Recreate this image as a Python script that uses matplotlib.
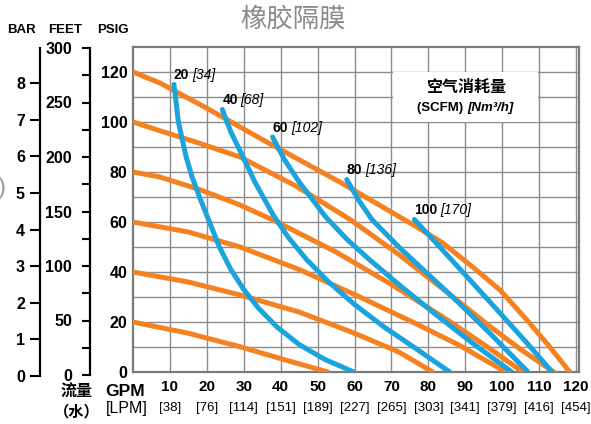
import numpy as np
import matplotlib.pyplot as plt
from matplotlib.patches import Rectangle

# osi i oznake
gpm_ticks = [10, 20, 30, 40, 50, 60, 70, 80, 90, 100, 110, 120]
lpm_labels = ['[38]', '[76]', '[114]', '[151]', '[189]', '[227]',
              '[265]', '[303]', '[341]', '[379]', '[416]', '[454]']
psig_ticks = [0, 20, 40, 60, 80, 100, 120]
bar_ticks = [0, 1, 2, 3, 4, 5, 6, 7, 8]
feet_ticks = [0, 50, 100, 150, 200, 250, 300]

# krivulje tlaka zraka (psig) - narancaste
psi120_x = [0, 7.3, 20, 35, 56, 76.9, 83.9, 92, 99.4, 106.7, 112.9, 118.3]
psi120_y = [120, 115.6, 105.5, 93, 76, 58, 51.6, 42, 32.8, 20.8, 10, 0]
psi100_x = [0, 7.3, 18, 29, 44, 58.8, 72, 85, 96, 105, 114]
psi100_y = [100, 96.5, 91.5, 86, 74.5, 61, 47, 32, 19, 9, 0]
psi80_x = [0, 7.3, 18, 29, 37.9, 55, 70, 85, 96, 105.6]
psi80_y = [80, 78, 73, 66.8, 60.8, 48, 35, 21, 10, 0]
psi60_x = [0, 15, 29, 45, 60, 75, 88, 101]
psi60_y = [60, 56, 50, 41, 31, 20.5, 11, 0]
psi40_x = [0, 15, 29, 45, 60, 72, 81.2]
psi40_y = [40, 36, 30.8, 24, 15.5, 8, 0]
psi20_x = [0, 15, 29, 42, 52.8]
psi20_y = [20, 15.5, 10.1, 4.5, 0]

# krivulje potrosnje zraka (SCFM) - plave
scfm20_x = [11.1, 12.3, 14.4, 16, 18, 20.7, 23.4, 26.5, 30, 34, 39, 45, 52, 59.8]
scfm20_y = [115, 100, 86, 78, 70, 60, 50, 41, 33, 25.5, 18, 11, 5, 0]
scfm40_x = [24.2, 26.5, 29, 33, 37.9, 42, 47, 53, 60, 68, 76, 85.8]
scfm40_y = [105, 96, 88.5, 76, 63, 54, 45, 36, 27, 18, 10, 0]
scfm60_x = [37.8, 41, 45, 52.2, 58, 64, 72, 82, 92, 102.6]
scfm60_y = [94, 85, 76, 62, 53, 45, 35, 23, 11.5, 0]
scfm80_x = [57.9, 61, 64.7, 72, 80, 88, 97, 107]
scfm80_y = [77, 69, 61, 50, 39, 28, 15, 0]
scfm100_x = [76.2, 83.1, 92, 99.4, 106.7, 113.5]
scfm100_y = [61, 50, 35.6, 23.6, 11.6, 0]

scfm_labels = ['20', '40', '60', '80', '100']
nm3_labels = ['[34]', '[68]', '[102]', '[136]', '[170]']

NARROW = ['Liberation Sans', 'DejaVu Sans']
CJK = ['Noto Sans CJK SC', 'DejaVu Sans']
ORANGE = '#F58220'
BLUE = '#1BA3DD'
GRID = '#8c8c8c'

W, H = 591, 424
fig = plt.figure(figsize=(W / 100, H / 100), dpi=100)

# glavni graf
ax = fig.add_axes([133 / W, 52 / H, 446 / W, 325 / H])
ax.set_xlim(0, 120.8)
ax.set_ylim(0, 130)
for s in ax.spines.values():
    s.set_color('#7a7a7a')
    s.set_linewidth(1.6)

# mreza
for gx in range(10, 130, 10):
    ax.axvline(gx, color=GRID, lw=1.0, zorder=1)
for gy in range(10, 130, 10):
    ax.axhline(gy, color=GRID, lw=1.0, zorder=1)

# bijeli okvir za legendu
ax.add_patch(Rectangle((70.35, 100), 39.3, 20, fc='white', ec='none', zorder=2))

orange = [(psi120_x, psi120_y), (psi100_x, psi100_y), (psi80_x, psi80_y),
          (psi60_x, psi60_y), (psi40_x, psi40_y), (psi20_x, psi20_y)]
for xs, ys in orange:
    ax.plot(xs, ys, color=ORANGE, lw=3.6, solid_capstyle='round',
            solid_joinstyle='round', zorder=3)

blue = [(scfm20_x, scfm20_y), (scfm40_x, scfm40_y), (scfm60_x, scfm60_y),
        (scfm80_x, scfm80_y), (scfm100_x, scfm100_y)]
for (xs, ys), lab, lab2 in zip(blue, scfm_labels, nm3_labels):
    ax.plot(xs, ys, color=BLUE, lw=3.6, solid_capstyle='round',
            solid_joinstyle='round', zorder=4)
    t = ax.annotate(lab, xy=(xs[0], ys[0]), xytext=(0, 6.5), textcoords='offset points',
                    ha='left', va='center', fontsize=10, fontweight='bold', family=NARROW)
    ax.annotate(lab2, xy=(1, 0.5), xycoords=t, xytext=(2, 0), textcoords='offset points',
                ha='left', va='center', fontsize=10, style='italic', family=NARROW)

# tekst legende
ax.text(90.2, 114, '空气消耗量', ha='center', va='center', fontsize=11.5,
        fontweight='bold', family=CJK, zorder=5)
t1 = ax.text(90.5, 105.6, '(SCFM) ', ha='right', va='center', fontsize=9.5,
             fontweight='bold', family=NARROW, zorder=5)
ax.annotate('[Nm³/h]', xy=(1, 0.5), xycoords=t1, ha='left', va='center',
            fontsize=9.5, fontweight='bold', style='italic', family=NARROW)

# x os
ax.set_xticks(gpm_ticks)
ax.set_xticklabels([str(v) for v in gpm_ticks], fontsize=11, fontweight='bold', family=NARROW)
ax.tick_params(axis='x', length=0, pad=6)
for gx, lab in zip(gpm_ticks, lpm_labels):
    ax.annotate(lab, xy=(gx, 0), xycoords=('data', 'axes fraction'), xytext=(0, -26),
                textcoords='offset points', ha='center', va='center',
                fontsize=9.5, family=NARROW)

# y os (PSIG)
ax.set_yticks(psig_ticks)
ax.set_yticklabels([str(v) for v in psig_ticks], fontsize=11.5, fontweight='bold', family=NARROW)
ax.tick_params(axis='y', length=0, pad=4)

# BAR os
ax_bar = fig.add_axes([39.5 / W, 48 / H, 0.0005, 328 / H])
ax_bar.set_ylim(0, 328 / 36.6)
ax_bar.set_yticks(bar_ticks)
ax_bar.set_yticklabels([str(v) for v in bar_ticks], fontsize=11.5, fontweight='bold', family=NARROW)
ax_bar.set_xticks([])
ax_bar.patch.set_visible(False)
for k in ['top', 'right', 'bottom']:
    ax_bar.spines[k].set_visible(False)
ax_bar.spines['left'].set_linewidth(1.6)
ax_bar.tick_params(axis='y', length=7, width=1.5, pad=3.5)

# FEET os
ax_ft = fig.add_axes([89.5 / W, 49 / H, 0.0005, 327 / H])
ax_ft.set_ylim(0, 300)
ax_ft.set_yticks(feet_ticks)
ax_ft.set_yticks(range(25, 300, 50), minor=True)
ax_ft.set_yticklabels([str(v) for v in feet_ticks], fontsize=11.5, fontweight='bold', family=NARROW)
ax_ft.set_xticks([])
ax_ft.patch.set_visible(False)
for k in ['top', 'right', 'bottom']:
    ax_ft.spines[k].set_visible(False)
ax_ft.spines['left'].set_linewidth(1.6)
ax_ft.tick_params(axis='y', which='both', length=5.5, width=1.5, pad=7)

# naslovi osi
for txt, px in [('BAR', 21.5), ('FEET', 65), ('PSIG', 113)]:
    fig.text(px / W, 1 - 30 / H, txt, ha='center', va='center', fontsize=9.5,
             fontweight='bold', family=NARROW)
fig.text(125 / W, 1 - 391 / H, 'GPM', ha='center', va='center', fontsize=12.5,
         fontweight='bold', family=NARROW)
fig.text(127 / W, 1 - 409 / H, '[LPM]', ha='center', va='center', fontsize=11.5,
         family=NARROW)
fig.text(77 / W, 1 - 391 / H, '流量', ha='center', va='center', fontsize=11.5,
         fontweight='bold', family=CJK)
fig.text(77 / W, 1 - 411 / H, '（水）', ha='center', va='center', fontsize=11,
         fontweight='bold', family=CJK)

# naslov
fig.text(293 / W, 1 - 19 / H, '橡胶隔膜', ha='center', va='center', fontsize=19,
         color='#8a8a8a', family=CJK)
fig.text(-2 / W, 1 - 188 / H, ')', ha='left', va='center', fontsize=17,
         color='#9a9a9a', family=NARROW)

fig.savefig('out.png', dpi=100)
